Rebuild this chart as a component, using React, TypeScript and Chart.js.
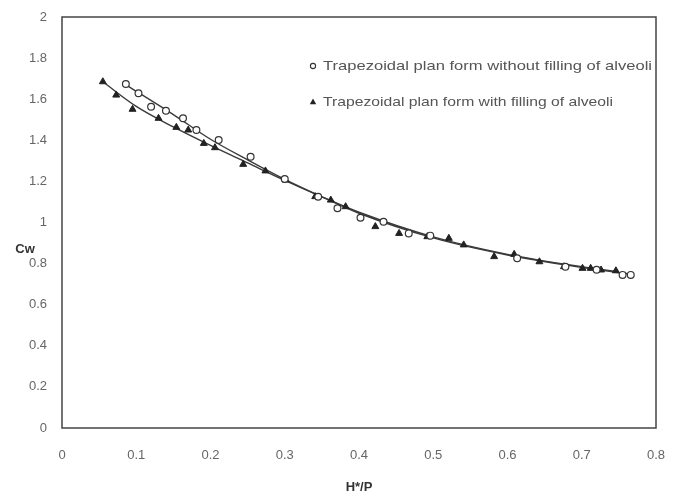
import { useEffect, useRef } from "react";
import { Chart, registerables } from "chart.js";
Chart.register(...registerables);

// Open circles: trapezoidal plan form without filling of alveoli
const withoutX = [0.086, 0.103, 0.120, 0.140, 0.163, 0.181, 0.211, 0.254, 0.300, 0.345, 0.371, 0.402, 0.433, 0.467, 0.496, 0.613, 0.678, 0.720, 0.755, 0.766];
const withoutY = [1.674, 1.629, 1.563, 1.544, 1.507, 1.450, 1.401, 1.320, 1.212, 1.125, 1.069, 1.023, 1.004, 0.947, 0.936, 0.826, 0.785, 0.770, 0.745, 0.745];

// Filled triangles: trapezoidal plan form with filling of alveoli
const withX = [0.055, 0.073, 0.095, 0.130, 0.154, 0.170, 0.191, 0.206, 0.244, 0.274, 0.301, 0.341, 0.362, 0.382, 0.422, 0.454, 0.492, 0.521, 0.541, 0.582, 0.609, 0.643, 0.676, 0.701, 0.712, 0.726, 0.746];
const withY = [1.685, 1.620, 1.551, 1.507, 1.463, 1.450, 1.385, 1.364, 1.283, 1.251, 1.207, 1.126, 1.109, 1.077, 0.980, 0.947, 0.931, 0.923, 0.891, 0.834, 0.845, 0.809, 0.785, 0.777, 0.777, 0.769, 0.765];

// Trend curves
const withoutCurveX = [0.086, 0.15, 0.2, 0.25, 0.3, 0.35, 0.4, 0.5, 0.6, 0.7, 0.766];
const withoutCurveY = [1.67, 1.525, 1.405, 1.305, 1.21, 1.125, 1.045, 0.925, 0.842, 0.782, 0.748];
const withCurveX = [0.055, 0.1, 0.15, 0.2, 0.25, 0.3, 0.35, 0.4, 0.5, 0.6, 0.7, 0.75];
const withCurveY = [1.685, 1.565, 1.465, 1.375, 1.29, 1.205, 1.125, 1.05, 0.93, 0.845, 0.785, 0.76];

const xTicks = [0, 0.1, 0.2, 0.3, 0.4, 0.5, 0.6, 0.7, 0.8];
const yTicks = [0, 0.2, 0.4, 0.6, 0.8, 1, 1.2, 1.4, 1.6, 1.8, 2];

const legendLabels = [
  "Trapezoidal plan form without filling of alveoli",
  "Trapezoidal plan form with filling of alveoli",
];
const xTitle = "H*/P";
const yTitle = "Cw";

const pts = (xs: number[], ys: number[]) => xs.map((x, i) => ({ x, y: ys[i] }));

const FONT = "'Liberation Sans', Arial, sans-serif";

const framePlugin = {
  id: "frame",
  afterDraw(chart: any) {
    const { ctx, chartArea: a } = chart;
    ctx.save();
    ctx.strokeStyle = "#444";
    ctx.lineWidth = 1.5;
    ctx.strokeRect(a.left, a.top, a.right - a.left, a.bottom - a.top);
    // axis titles
    ctx.fillStyle = "#333";
    ctx.font = `bold 13px ${FONT}`;
    ctx.textAlign = "center";
    ctx.textBaseline = "middle";
    ctx.fillText(yTitle, 25, 249);
    ctx.fillText(xTitle, (a.left + a.right) / 2, 487);
    // legend
    ctx.font = `13.5px ${FONT}`;
    ctx.textAlign = "left";
    const lx = 313;
    const ly = [66, 102];
    ctx.beginPath();
    ctx.arc(lx, ly[0], 2.6, 0, Math.PI * 2);
    ctx.fillStyle = "#fff";
    ctx.fill();
    ctx.strokeStyle = "#333";
    ctx.lineWidth = 1.1;
    ctx.stroke();
    ctx.beginPath();
    ctx.moveTo(lx, ly[1] - 3.5);
    ctx.lineTo(lx + 3.2, ly[1] + 2.2);
    ctx.lineTo(lx - 3.2, ly[1] + 2.2);
    ctx.closePath();
    ctx.fillStyle = "#222";
    ctx.fill();
    ctx.fillStyle = "#555";
    const targetW = [329, 290];
    legendLabels.forEach((t, i) => {
      const w = ctx.measureText(t).width;
      const sx = targetW[i] / w;
      ctx.save();
      ctx.translate(323, ly[i]);
      ctx.scale(sx, 1);
      ctx.fillText(t, 0, 0);
      ctx.restore();
    });
    ctx.restore();
  },
};

const zeroPad = (s: any) => {
  s.paddingTop = 0;
  s.paddingBottom = 0;
  s.paddingLeft = 0;
  s.paddingRight = 0;
};

export default function App() {
  const ref = useRef<HTMLCanvasElement>(null);
  useEffect(() => {
    document.body.style.margin = "0";
    const chart = new Chart(ref.current!, {
      type: "scatter",
      data: {
        datasets: [
          {
            label: "curve without",
            data: pts(withoutCurveX, withoutCurveY),
            showLine: true,
            pointRadius: 0,
            borderColor: "#3a3a3a",
            borderWidth: 1.4,
            cubicInterpolationMode: "monotone",
            order: 3,
          },
          {
            label: "curve with",
            data: pts(withCurveX, withCurveY),
            showLine: true,
            pointRadius: 0,
            borderColor: "#3a3a3a",
            borderWidth: 1.4,
            cubicInterpolationMode: "monotone",
            order: 4,
          },
          {
            label: legendLabels[0],
            data: pts(withoutX, withoutY),
            pointStyle: "circle",
            pointRadius: 3.4,
            backgroundColor: "#fff",
            borderColor: "#333",
            borderWidth: 1.2,
            order: 1,
          },
          {
            label: legendLabels[1],
            data: pts(withX, withY),
            pointStyle: "triangle",
            pointRadius: 4,
            backgroundColor: "#222",
            borderColor: "#222",
            borderWidth: 1,
            order: 2,
          },
        ],
      },
      options: {
        animation: false,
        responsive: false,
        events: [],
        layout: { padding: { top: 17, right: 17, left: 0, bottom: 0 } },
        plugins: { legend: { display: false }, tooltip: { enabled: false } },
        scales: {
          x: {
            type: "linear",
            min: 0,
            max: 0.8,
            afterFit: (s: any) => { s.height = 67; zeroPad(s); },
            afterBuildTicks: (s: any) => { s.ticks = xTicks.map((v) => ({ value: v })); },
            grid: { display: false, drawTicks: false },
            border: { display: false },
            ticks: {
              padding: 20,
              color: "#666",
              font: { family: FONT, size: 13 },
              callback: (v: any) => String(v),
            },
          },
          y: {
            type: "linear",
            min: 0,
            max: 2,
            afterFit: (s: any) => { s.width = 62; zeroPad(s); },
            afterBuildTicks: (s: any) => { s.ticks = yTicks.map((v) => ({ value: v })); },
            grid: { display: false, drawTicks: false },
            border: { display: false },
            ticks: {
              padding: 15,
              color: "#666",
              font: { family: FONT, size: 13 },
              callback: (v: any) => String(v),
            },
          },
        },
      },
      plugins: [framePlugin],
    });
    return () => chart.destroy();
  }, []);
  return <canvas ref={ref} width={673} height={495} style={{ display: "block" }} />;
}
